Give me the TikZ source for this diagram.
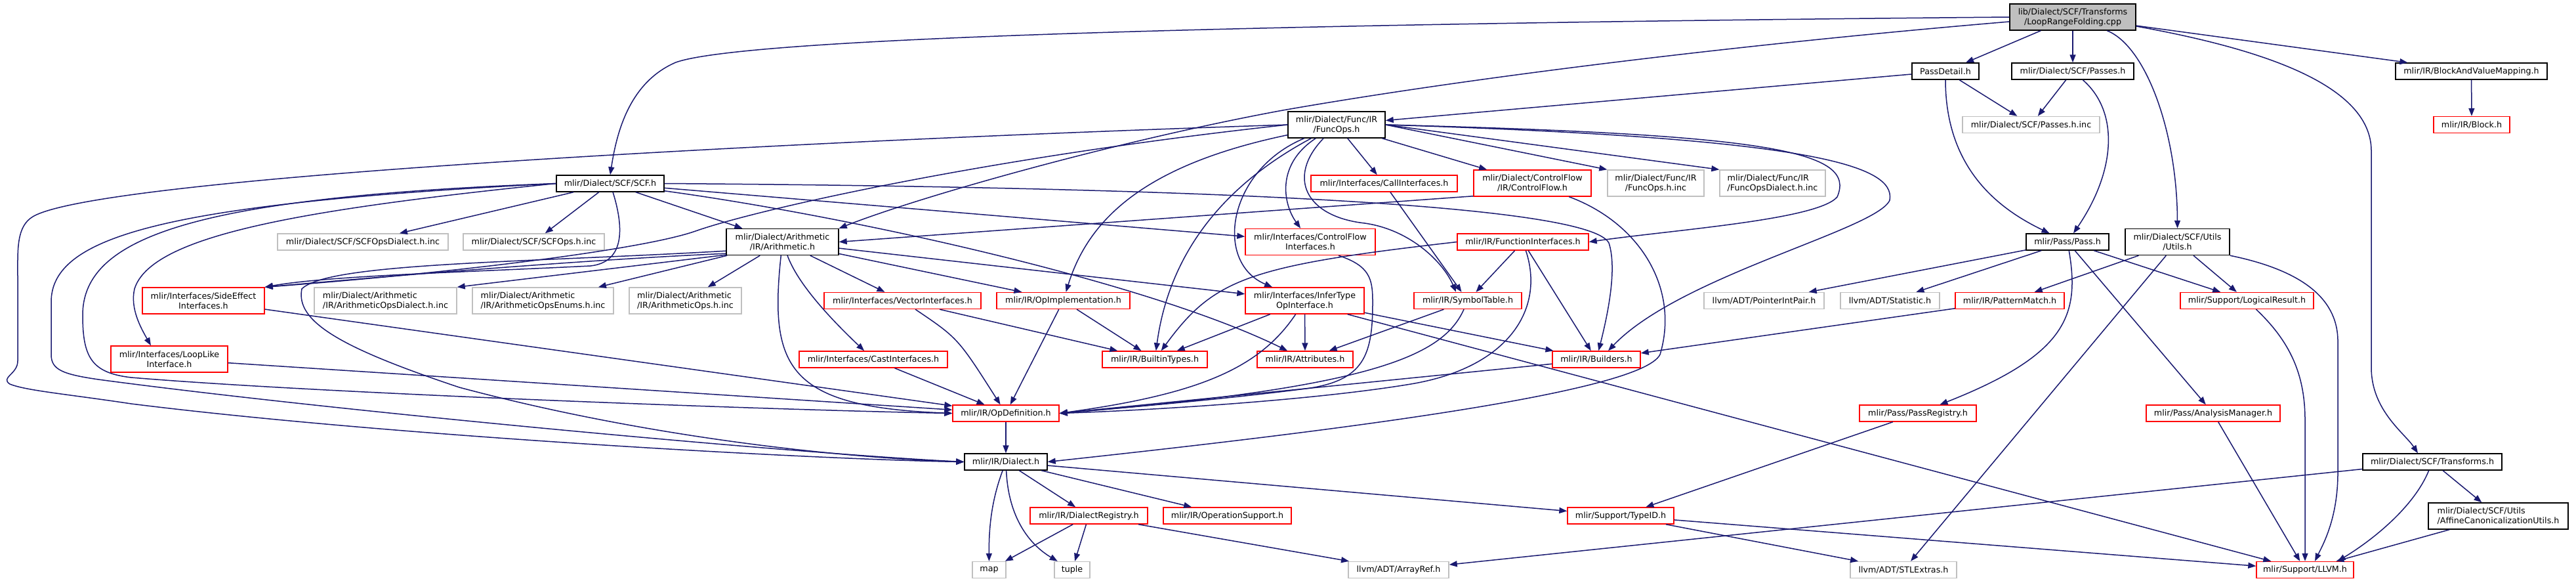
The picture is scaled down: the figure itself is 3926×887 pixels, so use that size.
\documentclass[tikz,border=0pt]{standalone}
\usepackage{fontspec}
\setmainfont{DejaVu Sans}
\usetikzlibrary{arrows.meta, calc}
\definecolor{edgeblue}{HTML}{191970}
\definecolor{extgray}{HTML}{BFBFBF}
\tikzset{
  hdr/.style={draw=black, line width=1.4pt, rectangle, inner sep=0pt, align=center, minimum height=25pt, font=\fontsize{12.7}{15}\selectfont},
  tall/.style={minimum height=40pt},
  trunc/.style={hdr, draw=red},
  ext/.style={hdr, draw=extgray},
  src/.style={hdr, fill=extgray},
  dep/.style={draw=edgeblue, line width=1.5pt, -{Triangle[length=12pt, width=9pt]}}
}
\begin{document}
\begin{tikzpicture}[x=1pt, y=-1pt]
\useasboundingbox[fill=white] (0,0) rectangle (3926,887);

\node[src, tall, minimum width=192pt] (lrf) at (3159,26) {lib/Dialect/SCF/Transforms\\/LoopRangeFolding.cpp};
\node[hdr, minimum width=102pt] (passdetail) at (2965,108.5) {PassDetail.h};
\node[hdr, minimum width=186pt] (scfpasses) at (3159,108.5) {mlir/Dialect/SCF/Passes.h};
\node[hdr, minimum width=231pt] (bvmap) at (3766.5,108.5) {mlir/IR/BlockAndValueMapping.h};
\node[hdr, tall, minimum width=148pt] (funcops) at (2037,190) {mlir/Dialect/Func/IR\\/FuncOps.h};
\node[ext, minimum width=209pt] (passesinc) at (3095.5,190) {mlir/Dialect/SCF/Passes.h.inc};
\node[trunc, minimum width=116pt] (block) at (3767,190) {mlir/IR/Block.h};
\node[hdr, minimum width=164pt] (scf) at (930,279.5) {mlir/Dialect/SCF/SCF.h};
\node[trunc, minimum width=223pt] (callif) at (2109.5,279.5) {mlir/Interfaces/CallInterfaces.h};
\node[trunc, tall, minimum width=179pt] (cflow) at (2335.5,279) {mlir/Dialect/ControlFlow\\/IR/ControlFlow.h};
\node[ext, tall, minimum width=147pt] (funcopsinc) at (2523.5,279) {mlir/Dialect/Func/IR\\/FuncOps.h.inc};
\node[ext, tall, minimum width=161pt, align=left] (funcdialinc) at (2701.5,279) {mlir/Dialect/Func/IR\\/FuncOpsDialect.h.inc};
\node[ext, minimum width=260pt] (scfdialinc) at (553,368.5) {mlir/Dialect/SCF/SCFOpsDialect.h.inc};
\node[ext, minimum width=215pt] (scfopsinc) at (813.5,368.5) {mlir/Dialect/SCF/SCFOps.h.inc};
\node[hdr, tall, minimum width=171pt] (arith) at (1192.5,368.5) {mlir/Dialect/Arithmetic\\/IR/Arithmetic.h};
\node[trunc, tall, minimum width=198pt] (cfif) at (1997,368.5) {mlir/Interfaces/ControlFlow\\Interfaces.h};
\node[trunc, minimum width=200pt] (funcif) at (2321,368.5) {mlir/IR/FunctionInterfaces.h};
\node[hdr, minimum width=126pt] (pass) at (3151,368.5) {mlir/Pass/Pass.h};
\node[hdr, tall, minimum width=159pt] (utils) at (3318.5,368.5) {mlir/Dialect/SCF/Utils\\/Utils.h};
\node[trunc, tall, minimum width=186pt] (sideeff) at (310,458) {mlir/Interfaces/SideEffect\\Interfaces.h};
\node[ext, tall, minimum width=217pt, align=left] (arithdialinc) at (587.5,458) {mlir/Dialect/Arithmetic\\/IR/ArithmeticOpsDialect.h.inc};
\node[ext, tall, minimum width=215pt, align=left] (arithenuminc) at (827.5,458) {mlir/Dialect/Arithmetic\\/IR/ArithmeticOpsEnums.h.inc};
\node[ext, tall, minimum width=171pt, align=left] (arithopsinc) at (1044.5,458) {mlir/Dialect/Arithmetic\\/IR/ArithmeticOps.h.inc};
\node[trunc, minimum width=239pt] (vecif) at (1375.5,458) {mlir/Interfaces/VectorInterfaces.h};
\node[trunc, minimum width=203pt] (opimpl) at (1620.5,458) {mlir/IR/OpImplementation.h};
\node[trunc, tall, minimum width=181pt] (infer) at (1988.5,458) {mlir/Interfaces/InferType\\OpInterface.h};
\node[trunc, minimum width=164pt] (symtab) at (2237,458) {mlir/IR/SymbolTable.h};
\node[ext, minimum width=183pt] (ptrint) at (2688.5,458) {llvm/ADT/PointerIntPair.h};
\node[ext, minimum width=151pt] (statistic) at (2880.5,458) {llvm/ADT/Statistic.h};
\node[trunc, minimum width=166pt] (patmatch) at (3063,458) {mlir/IR/PatternMatch.h};
\node[trunc, minimum width=203pt] (logres) at (3424.5,458) {mlir/Support/LogicalResult.h};
\node[trunc, tall, minimum width=178pt] (looplike) at (258,547) {mlir/Interfaces/LoopLike\\Interface.h};
\node[trunc, minimum width=226pt] (castif) at (1331,547.5) {mlir/Interfaces/CastInterfaces.h};
\node[trunc, minimum width=160pt] (btypes) at (1760,547.5) {mlir/IR/BuiltinTypes.h};
\node[trunc, minimum width=146pt] (attrs) at (1989,547.5) {mlir/IR/Attributes.h};
\node[trunc, minimum width=134pt] (builders) at (2433,547.5) {mlir/IR/Builders.h};
\node[trunc, minimum width=178pt] (passreg) at (2923,629.5) {mlir/Pass/PassRegistry.h};
\node[trunc, minimum width=204pt] (anmgr) at (3373,629.5) {mlir/Pass/AnalysisManager.h};
\node[trunc, minimum width=162pt] (opdef) at (1533,629.5) {mlir/IR/OpDefinition.h};
\node[hdr, minimum width=126pt] (dialect) at (1533,703.5) {mlir/IR/Dialect.h};
\node[hdr, minimum width=212pt] (transforms) at (3707,703.5) {mlir/Dialect/SCF/Transforms.h};
\node[trunc, minimum width=179pt] (dialreg) at (1659.5,785.5) {mlir/IR/DialectRegistry.h};
\node[trunc, minimum width=195pt] (opsupport) at (1870.5,785.5) {mlir/IR/OperationSupport.h};
\node[trunc, minimum width=162pt] (typeid) at (2470,785.5) {mlir/Support/TypeID.h};
\node[hdr, tall, minimum width=213pt, align=left] (affine) at (3807.5,786) {mlir/Dialect/SCF/Utils\\/AffineCanonicalizationUtils.h};
\node[ext, minimum width=51pt] (map) at (1507.5,868) {map};
\node[ext, minimum width=54pt] (tuple) at (1634,868) {tuple};
\node[ext, minimum width=153pt] (arrayref) at (2131.5,868) {llvm/ADT/ArrayRef.h};
\node[ext, minimum width=162pt] (stlextras) at (2901,868) {llvm/ADT/STLExtras.h};
\node[trunc, minimum width=148pt] (llvm) at (3513,868) {mlir/Support/LLVM.h};

\draw[dep] (lrf) -- (passdetail);
\draw[dep] (lrf) -- (scfpasses);
\draw[dep] (lrf) -- (bvmap);
\draw[dep] (lrf.west) .. controls (1500,40) and (1100,70) .. (1030,95) .. controls (960,125) and (940,200) .. (scf.north);
\draw[dep] ($(lrf.west)+(0,7)$) .. controls (2600,72) and (2200,125) .. (1955,168) .. controls (1700,215) and (1400,300) .. (arith.north east);
\draw[dep] (lrf) .. controls (3270,70) and (3318,200) .. (utils.north);
\draw[dep] ($(lrf.east)+(0,14)$) .. controls (3450,75) and (3614,130) .. (3614,230) -- (3614,560) .. controls (3614,625) and (3665,660) .. ($(transforms.north)+(-22,0)$);

\draw[dep] (passdetail) -- (funcops);
\draw[dep] (passdetail) -- (passesinc);
\draw[dep] (passdetail) .. controls (2965,260) and (3050,320) .. (pass);
\draw[dep] (scfpasses) -- (passesinc);
\draw[dep] (scfpasses) .. controls (3230,170) and (3225,260) .. (pass);
\draw[dep] (bvmap) -- (block);

\draw[dep] (funcops) -- (callif);
\draw[dep] (funcops) -- (cflow);
\draw[dep] (funcops.east) -- (funcopsinc.north west);
\draw[dep] (funcops.east) -- (funcdialinc.north west);
\draw[dep] (funcops.east) .. controls (2700,205) and (2830,230) .. (2800,300) .. controls (2770,335) and (2550,350) .. (funcif.east);
\draw[dep] (funcops.east) .. controls (2750,210) and (2890,250) .. (2880,305) .. controls (2860,350) and (2560,420) .. ($(builders.north)+(18,0)$);
\draw[dep] (funcops) .. controls (1960,270) and (1990,330) .. (2080,340) .. controls (2150,350) and (2200,400) .. ($(symtab.north)+(-18,0)$);
\draw[dep] (funcops.west) .. controls (1200,215) and (150,270) .. (50,330) .. controls (25,345) and (27,380) .. (27,420) -- (27,550) .. controls (27,570) and (0,575) .. (15,585) .. controls (40,595) and (100,600) .. (200,615) .. controls (600,665) and (1250,700) .. (dialect.west);
\draw[dep] (funcops.west) .. controls (1500,240) and (1150,320) .. (1060,352) .. controls (980,380) and (700,415) .. (sideeff.north east);
\draw[dep] (funcops) .. controls (1750,250) and (1660,330) .. (opimpl);
\draw[dep] (funcops) .. controls (1850,290) and (1780,400) .. (btypes);
\draw[dep] (funcops) .. controls (1870,260) and (1850,400) .. (infer);
\draw[dep] (funcops) .. controls (1945,250) and (1955,310) .. (cfif);

\draw[dep] (scf) -- (scfdialinc);
\draw[dep] (scf) -- (scfopsinc);
\draw[dep] (scf) -- (arith);
\draw[dep] (scf) -- (cfif);
\draw[dep] (scf) .. controls (955,360) and (945,400) .. (900,405) .. controls (700,415) and (500,420) .. (sideeff.north east);
\draw[dep] (scf.west) .. controls (450,320) and (230,360) .. (205,440) .. controls (198,470) and (215,500) .. ($(looplike.north)+(-28,0)$);
\draw[dep] (scf.west) .. controls (300,300) and (126,360) .. (126,480) .. controls (126,545) and (140,568) .. (200,575) .. controls (500,600) and (1200,625) .. (opdef.west);
\draw[dep] (scf.west) .. controls (250,310) and (78,360) .. (78,460) -- (78,540) .. controls (78,563) and (95,570) .. (150,578) .. controls (500,625) and (1200,690) .. (dialect.west);
\draw[dep] (scf.east) .. controls (1800,285) and (2420,310) .. (2452,370) .. controls (2465,410) and (2450,480) .. (builders);
\draw[dep] (scf) .. controls (1300,330) and (1750,430) .. (attrs);

\draw[dep] ($(arith.south west)+(0,-1)$) -- (arithdialinc.north east);
\draw[dep] (arith) -- (arithenuminc);
\draw[dep] (arith) -- (arithopsinc);
\draw[dep] ($(arith.south west)+(0,-3)$) .. controls (900,395) and (600,420) .. (sideeff.north east);
\draw[dep] ($(arith.south west)+(0,-7)$) .. controls (800,400) and (500,400) .. (460,440) .. controls (450,490) and (520,530) .. (700,590) .. controls (1000,670) and (1300,698) .. (dialect.west);
\draw[dep] (arith) .. controls (1172,560) and (1200,620) .. (opdef.west);
\draw[dep] (arith) .. controls (1215,430) and (1260,480) .. (castif);
\draw[dep] (arith) -- (vecif);
\draw[dep] (arith) -- (opimpl);
\draw[dep] (arith) -- (infer);

\draw[dep] ($(cflow.south west)+(0,-1)$) -- (arith.east);
\draw[dep] (cflow) .. controls (2500,340) and (2560,440) .. (2530,540) .. controls (2500,600) and (2000,660) .. (dialect.east);
\draw[dep] (callif) -- (symtab);
\draw[dep] ($(cfif.south)+(43,0)$) .. controls (2088,405) and (2092,425) .. (2092,460) .. controls (2092,540) and (2080,580) .. (1990,592) .. controls (1850,610) and (1700,622) .. (opdef.east);
\draw[dep] (funcif) -- (symtab);
\draw[dep] (funcif) -- (builders);
\draw[dep] (funcif) .. controls (2355,470) and (2300,560) .. (2150,585) .. controls (2000,610) and (1750,625) .. (opdef.east);
\draw[dep] (funcif.west) .. controls (1900,405) and (1850,425) .. (btypes);

\draw[dep] (infer) -- (attrs);
\draw[dep] (infer) -- (btypes);
\draw[dep] (infer) -- (builders);
\draw[dep] (infer) .. controls (1920,560) and (1830,600) .. (opdef.east);
\draw[dep] ($(infer.south east)+(-26,0)$) -- ($(llvm.north west)+(23,0)$);
\draw[dep] (symtab) -- (attrs);
\draw[dep] (symtab) .. controls (2200,540) and (2100,590) .. (opdef.east);
\draw[dep] (builders) -- (opdef.east);
\draw[dep] (patmatch) -- (builders);
\draw[dep] (castif) -- (opdef);
\draw[dep] (vecif) .. controls (1460,515) .. (opdef);
\draw[dep] (vecif) -- (btypes);
\draw[dep] (opimpl) -- (opdef);
\draw[dep] (opimpl) -- (btypes);
\draw[dep] (sideeff) -- (opdef);
\draw[dep] (looplike) -- (opdef);
\draw[dep] (opdef) -- (dialect);

\draw[dep] (pass) -- (ptrint);
\draw[dep] (pass) -- (statistic);
\draw[dep] (pass) .. controls (3170,480) and (3150,540) .. (passreg);
\draw[dep] (pass) -- (anmgr);
\draw[dep] (pass) -- (logres);
\draw[dep] (utils) -- (patmatch);
\draw[dep] (utils) -- (logres);
\draw[dep] (utils) -- (stlextras);
\draw[dep] (utils.south east) .. controls (3500,410) and (3563,450) .. (3563,520) -- (3563,720) .. controls (3563,790) and (3540,830) .. ($(llvm.north)+(15,0)$);
\draw[dep] (passreg) -- (typeid);
\draw[dep] (anmgr) -- (llvm);
\draw[dep] (logres) .. controls (3490,520) and (3513,570) .. (3513,640) -- (llvm.north);
\draw[dep] (transforms) -- (arrayref);
\draw[dep] (transforms) -- (affine);
\draw[dep] (transforms) .. controls (3680,770) and (3620,820) .. ($(llvm.north east)+(-25,0)$);
\draw[dep] (affine) -- (llvm);

\draw[dep] (dialect) .. controls (1512,760) and (1507,800) .. (map);
\draw[dep] (dialect) .. controls (1537,790) and (1570,830) .. (tuple);
\draw[dep] (dialect) -- (dialreg);
\draw[dep] (dialect) -- (opsupport);
\draw[dep] (dialect) -- (typeid);
\draw[dep] (dialreg) -- (map);
\draw[dep] (dialreg) -- (tuple);
\draw[dep] (dialreg) -- (arrayref);
\draw[dep] (typeid) -- (stlextras);
\draw[dep] (typeid) -- (llvm);
\end{tikzpicture}
\end{document}
